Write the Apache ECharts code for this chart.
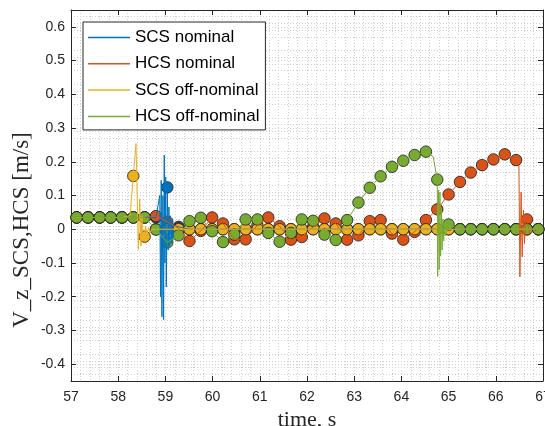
<!DOCTYPE html>
<html>
<head>
<meta charset="utf-8">
<script src="https://cdn.jsdelivr.net/npm/echarts@6/dist/echarts.min.js"></script>
<style>
  html, body { margin: 0; padding: 0; background: #fff; }
  #chart { width: 545px; height: 426px; }
</style>
</head>
<body>
<div id="chart"></div>
<script>
// marker sample times (s)
const markerTimes = [57.12, 57.36, 57.61, 57.84, 58.08, 58.32, 58.56, 58.80, 59.04, 59.28,
  59.51, 59.75, 59.99, 60.22, 60.46, 60.70, 60.95, 61.18, 61.42, 61.66,
  61.89, 62.13, 62.37, 62.61, 62.85, 63.09, 63.33, 63.56, 63.80, 64.04,
  64.28, 64.52, 64.76, 65.00, 65.24, 65.47, 65.71, 65.95, 66.19, 66.43,
  66.66, 66.90];

// values at the markers (m/s)
const scsNominal = [0.035, 0.035, 0.035, 0.035, 0.035, 0.035, 0.035, 0.035, 0.124, 0.007,
  0, 0, 0, 0, 0, 0, 0, 0, 0, 0,
  0, 0, 0, 0, 0, 0, 0, 0, 0, 0,
  0, 0, 0, 0, 0, 0, 0, 0, 0, 0,
  0, 0];
const hcsNominal = [0.035, 0.035, 0.035, 0.035, 0.035, 0.035, 0.035, 0.039, 0.022, 0.003,
  -0.035, -0.005, 0.035, 0.017, -0.03, -0.03, 0.012, 0.035, 0.009, -0.031,
  -0.023, 0.007, 0.032, 0.017, -0.031, -0.018, 0.024, 0.027, -0.013, -0.031,
  -0.008, 0.027, 0.059, 0.103, 0.14, 0.168, 0.19, 0.207, 0.222, 0.205,
  0.029, 0];
const scsOffNominal = [0.035, 0.035, 0.035, 0.035, 0.035, 0.158, -0.022, 0, 0, 0,
  0, 0, 0, 0, 0, 0, 0, 0, 0, 0,
  0, 0, 0, 0, 0, 0, 0, 0, 0, 0,
  0, 0, 0, 0, 0, 0, 0, 0, 0, 0,
  0, 0];
const hcsOffNominal = [0.035, 0.035, 0.035, 0.035, 0.035, 0.035, 0.035, -0.001, -0.039, -0.018,
  0.024, 0.034, -0.006, -0.038, -0.016, 0.029, 0.029, -0.011, -0.037, -0.011,
  0.029, 0.025, -0.016, -0.032, 0.027, 0.079, 0.123, 0.157, 0.185, 0.203,
  0.22, 0.23, 0.147, 0.014, 0, 0, 0, 0, 0, 0,
  0, 0];

// transient samples between the markers [t, v]
const scsNominalSpikes = [[57.0, 0.035], [58.84, 0.035], [58.88, 0.10], [58.898, -0.20], [58.911, 0.145],
  [58.926, -0.26], [58.947, 0.10], [58.962, -0.268], [58.975, 0.22], [58.989, -0.10],
  [59.006, 0.155], [59.019, -0.171], [59.059, -0.062], [59.074, 0.066], [59.091, -0.05],
  [59.106, 0.04], [59.123, -0.042], [59.138, 0.027], [59.155, -0.033], [59.169, 0.012], [67.0, 0]];
const hcsNominalSpikes = [[57.0, 0.035], [66.49, 0.19], [66.511, -0.141], [66.536, 0.11], [66.559, -0.082],
  [66.585, 0.056], [66.608, -0.042], [66.629, 0.02], [66.712, -0.012], [67.0, 0]];
const scsOffNominalSpikes = [[57.0, 0.035], [58.25, 0.04], [58.377, 0.254], [58.428, -0.06], [58.456, 0.09],
  [58.481, -0.05], [58.502, 0.04], [58.523, -0.035], [58.576, 0.01], [58.608, -0.02],
  [58.64, 0.005], [58.672, -0.01], [58.714, 0], [67.0, 0]];
const hcsOffNominalSpikes = [[57.0, 0.035], [64.674, 0.215], [64.769, -0.14], [64.784, 0.116], [64.801, -0.12],
  [64.816, 0.11], [64.831, -0.08], [64.848, 0.062], [64.862, -0.062], [64.879, 0.03],
  [64.896, -0.035], [64.911, 0.02], [64.928, -0.02], [67.0, 0]];

const names = ['SCS nominal', 'HCS nominal', 'SCS off-nominal', 'HCS off-nominal'];
const colors = ['#0072BD', '#D95319', '#EDB120', '#77AC30'];
const values = [scsNominal, hcsNominal, scsOffNominal, hcsOffNominal];
const spikes = [scsNominalSpikes, hcsNominalSpikes, scsOffNominalSpikes, hcsOffNominalSpikes];

const yTicks = [-0.4, -0.3, -0.2, -0.1, 0, 0.1, 0.2, 0.3, 0.4, 0.5, 0.6];

const INK = '#262626';
const GRID = '#cfcfcf';
const SANS = '"Liberation Sans", Arial, sans-serif';
const SERIF = '"Liberation Serif", "Times New Roman", serif';

function lineData(vals, extra) {
  const pts = markerTimes.map((t, i) => [t, vals[i]]).concat(extra);
  return pts.sort((a, b) => a[0] - b[0]);
}

const series = [];
names.forEach((name, i) => {
  series.push({
    name, type: 'line', data: lineData(values[i], spikes[i]),
    symbol: 'none', animation: false,
    lineStyle: { color: colors[i], width: 1 },
    itemStyle: { color: colors[i] },
  });
  series.push({
    name: name + ' pts', type: 'scatter', animation: false, silent: true,
    data: markerTimes.map((t, j) => [t, values[i][j]]),
    symbol: 'circle', symbolSize: 11.5,
    itemStyle: { color: colors[i], borderColor: '#1c1c1c', borderWidth: 0.8, opacity: 1 },
  });
});

const boxAxis = {
  axisLine: { show: true, onZero: false, lineStyle: { color: INK, width: 1 } },
  axisTick: { show: true, inside: true, length: 5, lineStyle: { color: INK } },
};

const chart = echarts.init(document.getElementById('chart'));
chart.setOption({
  backgroundColor: '#fff',
  animation: false,
  grid: { left: 71, right: 2, top: 10, bottom: 45, containLabel: false, outerBoundsMode: 'none' },
  legend: {
    data: names, orient: 'vertical', left: 83, top: 22,
    padding: [7, 6, 5, 5], itemWidth: 42, itemHeight: 1.5, itemGap: 9.3,
    icon: 'rect',
    backgroundColor: '#fff', borderColor: INK, borderWidth: 1,
    textStyle: { fontFamily: SANS, fontSize: 17, color: '#000', lineHeight: 14 },
  },
  xAxis: [{
    type: 'value', min: 57, max: 67, interval: 1, position: 'bottom', ...boxAxis,
    axisLabel: { fontFamily: SANS, fontSize: 14, color: INK, margin: 9 },
    splitLine: { show: true, lineStyle: { color: GRID, type: [1, 2] } },
    minorTick: { show: false, splitNumber: 5 },
    minorSplitLine: { show: true, lineStyle: { color: GRID, type: [1, 2] } },
    name: 'time, s', nameLocation: 'middle', nameGap: 16,
    nameTextStyle: { fontFamily: SERIF, fontSize: 22, color: INK },
  }, {
    type: 'value', min: 57, max: 67, interval: 1, position: 'top', ...boxAxis,
    axisLabel: { show: false }, splitLine: { show: false },
  }],
  yAxis: [{
    type: 'value', min: -0.45, max: 0.65, interval: 0.1, position: 'left', ...boxAxis,
    axisTick: { show: true, inside: true, length: 5, lineStyle: { color: INK }, customValues: yTicks },
    axisLabel: { fontFamily: SANS, fontSize: 14, color: INK, margin: 6, customValues: yTicks,
      formatter: v => String(Math.round(v * 10) / 10) },
    splitLine: { show: true, lineStyle: { color: GRID, type: [1, 2] } },
    minorTick: { show: false, splitNumber: 5 },
    minorSplitLine: { show: true, lineStyle: { color: GRID, type: [1, 2] } },
  }, {
    type: 'value', min: -0.45, max: 0.65, interval: 0.1, position: 'right', ...boxAxis,
    axisTick: { show: true, inside: true, length: 5, lineStyle: { color: INK }, customValues: yTicks },
    axisLabel: { show: false }, splitLine: { show: false },
  }],
  graphic: [{
    type: 'text', x: 22, y: 230, rotation: Math.PI / 2, silent: true,
    style: { text: 'V_z_SCS,HCS [m/s]', font: '23px ' + SERIF, fill: INK,
      textAlign: 'center', textVerticalAlign: 'middle' },
  }],
  series,
});
</script>
</body>
</html>
